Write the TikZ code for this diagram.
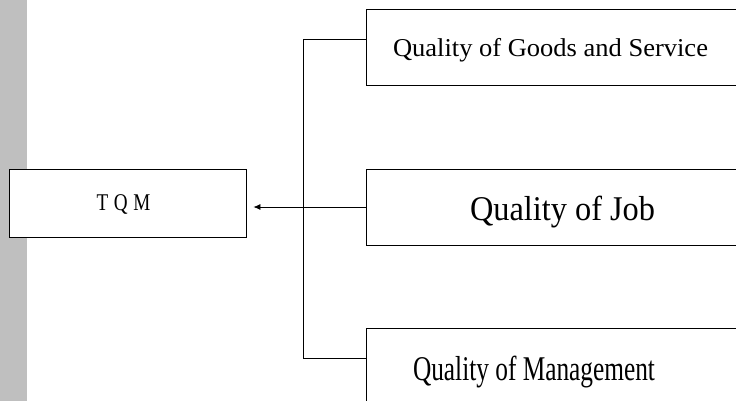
\documentclass[tikz,border=0pt]{standalone}
\usepackage{fontspec}
\setmainfont{Liberation Serif}
\usepackage{graphicx}
\usetikzlibrary{arrows.meta}

% condensed label: #1 = font size, #2 = target width, #3 = text
\newcommand{\cond}[3]{\resizebox{#2}{\height}{\fontsize{#1}{#1}\selectfont #3}}

\tikzset{
  box/.style={draw=black, line width=0.8pt, fill=white, rectangle,
              inner sep=0pt, minimum width=#1},
  box/.default=400pt,
  wire/.style={draw=black, line width=0.8pt},
  lbl/.style={anchor=base, inner sep=0pt}
}

\begin{document}
\begin{tikzpicture}[x=1pt, y=-1pt]
  \useasboundingbox (0,0) rectangle (736,401);
  \clip (0,0) rectangle (736,401);
  \fill[white] (0,0) rectangle (736,401);

  % shaded margin strip
  \fill[black!25] (0,0) rectangle (27,401);

  % boxes
  \node[box=237pt, minimum height=68pt] (tqm) at (127.5,203) {};
  \node[box, minimum height=76pt] (goods) at (566,47) {};
  \node[box, minimum height=76pt] (job)   at (566,207) {};
  \node[box, minimum height=90pt] (mgmt)  at (566,373) {};

  % labels
  \node[lbl] (tqmtext)   at (123.5,210) {\cond{24pt}{54pt}{T\hspace{0.3em}Q\hspace{0.3em}M}};
  \node[lbl] (goodstext) at (550.5,57)  {\cond{25.7pt}{315pt}{Quality of Goods and Service}};
  \node[lbl] (jobtext)   at (562.5,220) {\cond{34.7pt}{185pt}{Quality of Job}};
  \node[lbl] (mgmttext)  at (534,380)   {\cond{34.7pt}{242pt}{Quality of Management}};

  % bracket joining the three boxes
  \coordinate (jt) at (303,39);
  \coordinate (jb) at (303,358);
  \draw[wire] (goods.west |- jt) -- (jt) -- (jb) -- (mgmt.west |- jb);

  % arrow into TQM
  \draw[wire, -{Latex[length=7pt,width=6pt]}, shorten >=7pt] (job.west) -- (tqm.east |- job.west);
\end{tikzpicture}
\end{document}
